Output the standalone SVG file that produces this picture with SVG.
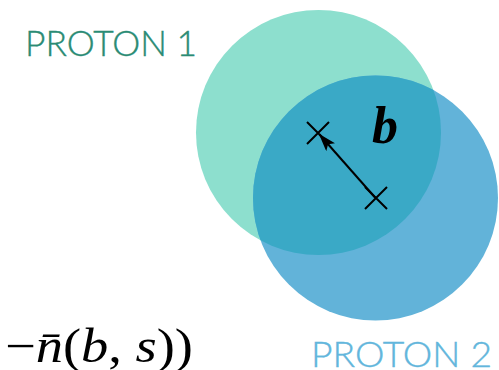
<svg xmlns="http://www.w3.org/2000/svg" width="499" height="370" viewBox="0 0 499 370">
<style>
.lbl{font-family:"Lato","Open Sans","Liberation Sans",sans-serif;font-weight:300;font-size:36px}
.cross{stroke:#000;stroke-width:2;fill:none}
.math{font-family:"Liberation Serif","DejaVu Serif",serif;font-size:48px;fill:#000}
</style>
<defs>
<clipPath id="c1clip"><circle cx="318.5" cy="132.5" r="122.5"/></clipPath>
<marker id="arr" markerWidth="18" markerHeight="12" refX="17" refY="6" orient="auto" markerUnits="userSpaceOnUse">
<path d="M0,0 L18,6 L0,12 L4,6 Z" fill="#000"/>
</marker>
</defs>
<g id="proton1">
<circle cx="318.5" cy="132.5" r="122.5" fill="#8ddfce"/>
<text class="lbl" x="25" y="56" fill="#2a8b74" stroke="#2a8b74" stroke-width="0.4" textLength="172" lengthAdjust="spacingAndGlyphs">PROTON 1</text>
</g>
<g id="proton2">
<circle cx="375.5" cy="198" r="122.5" fill="#62b3d9"/>
<circle cx="375.5" cy="198" r="122.5" fill="#3aa9c6" clip-path="url(#c1clip)"/>
<text class="lbl" x="311" y="367" fill="#62b6dc" stroke="#62b6dc" stroke-width="0.4" textLength="181" lengthAdjust="spacingAndGlyphs">PROTON 2</text>
</g>
<g id="centers">
<path class="cross" d="M307,122 L329,144 M329,122 L307,144"/>
<path class="cross" d="M365,187 L387,209 M387,187 L365,209"/>
</g>
<g id="connectors">
<line x1="375.5" y1="198" x2="319.5" y2="134.5" stroke="#000" stroke-width="2" marker-end="url(#arr)"/>
</g>
<text x="372" y="143" font-family="Liberation Serif, DejaVu Serif, serif" font-size="52" font-weight="bold" font-style="italic" fill="#000">b</text>
<text class="math" x="5" y="362" textLength="188" lengthAdjust="spacingAndGlyphs">−<tspan font-style="italic">n̄</tspan>(<tspan font-style="italic">b</tspan>, <tspan font-style="italic">s</tspan>))</text>
</svg>
